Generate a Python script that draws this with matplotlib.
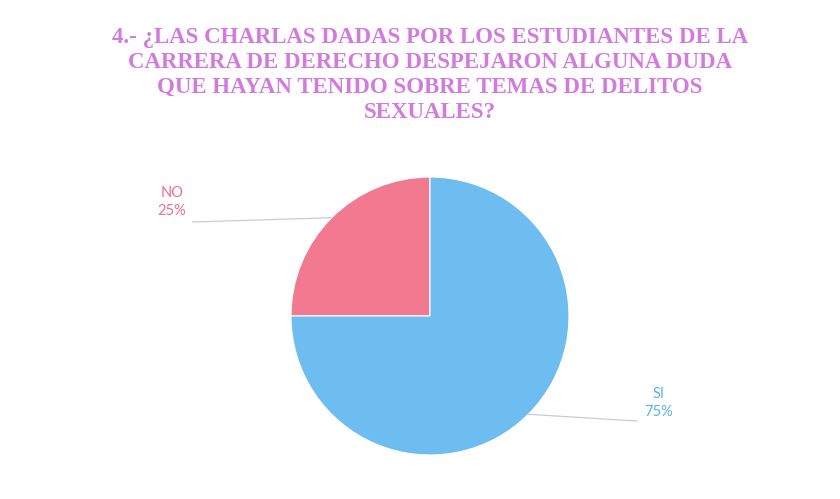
import matplotlib
matplotlib.use('Agg')
import matplotlib.pyplot as plt
import numpy as np

# data
labels = ['NO', 'SI']
values = [25, 75]
colors = ['#F27A90', '#6DBDF0']
label_colors = ['#EE6E8C', '#5BB2EA']
title = ('4.- ¿LAS CHARLAS DADAS POR LOS ESTUDIANTES DE LA\n'
         'CARRERA DE DERECHO DESPEJARON ALGUNA DUDA\n'
         'QUE HAYAN TENIDO SOBRE TEMAS DE DELITOS\n'
         'SEXUALES?')

W, H = 840, 499
fig = plt.figure(figsize=(W / 100, H / 100), dpi=100)
ax = fig.add_axes([0, 0, 1, 1])
ax.set_xlim(0, W)
ax.set_ylim(0, H)
ax.set_aspect('equal')
ax.axis('off')

cx, cy, r = 430, H - 316, 139
wedges, _ = ax.pie(values, colors=colors, startangle=90, counterclock=True,
                   center=(cx, cy), radius=r, frame=True,
                   wedgeprops=dict(edgecolor='white', linewidth=0.8))
ax.set_xlim(0, W)
ax.set_ylim(0, H)
ax.axis('off')

# label text positions (pixels, top-left origin)
text_pos = [(172, 202), (659, 403)]
line_end = [(193, 222), (637, 421)]
for w, lab, val, lc, tp, le in zip(wedges, labels, values, label_colors, text_pos, line_end):
    ang = np.deg2rad((w.theta1 + w.theta2) / 2)
    x0 = cx + r * np.cos(ang)
    y0 = cy + r * np.sin(ang)
    ax.plot([x0, le[0]], [y0, H - le[1]], color='#C8CCD8', lw=0.9)
    ax.text(tp[0], H - tp[1], f'{lab}\n{val}%', ha='center', va='center',
            color=lc, fontsize=10.5, fontfamily='Lato', linespacing=1.45)

fig.text(0.512, 1 - 75 / H, title, ha='center', va='center',
         fontsize=16.5, fontweight='bold', fontfamily='Liberation Serif',
         color='#D37ADF', linespacing=1.23)

fig.savefig('out.png', dpi=100)
